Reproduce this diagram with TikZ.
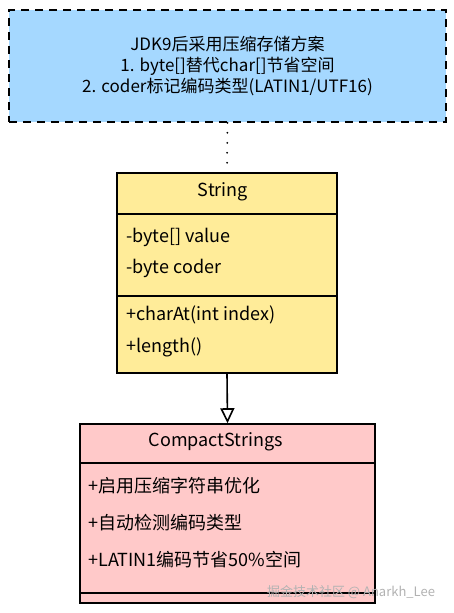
\documentclass[tikz,border=0pt]{standalone}
\usepackage{fontspec}
\setmainfont{Noto Sans CJK SC}
\usetikzlibrary{arrows.meta}

\definecolor{noteblue}{HTML}{A5D8FF}
\definecolor{classyellow}{HTML}{FFEC99}
\definecolor{classpink}{HTML}{FFC9C9}

\begin{document}
\begin{tikzpicture}[x=1pt, y=-1pt, font=\fontsize{18}{21}\selectfont,
    box/.style={draw=black, line width=1.6pt, inner sep=0pt},
    member/.style={anchor=west, inner sep=0pt}]
    \useasboundingbox (0,0) rectangle (454,613);

    % note
    \node[box, dash pattern=on 8pt off 6pt, fill=noteblue, minimum width=437pt, minimum height=112pt] (note) at (227.5,66) {};
    \node[align=center, font=\fontsize{17}{21}\selectfont] (notetext) at (note.center) {JDK9后采用压缩存储方案\\1. byte[]替代char[]节省空间\\2. coder标记编码类型(LATIN1/UTF16)};

    % String
    \node[box, fill=classyellow, minimum width=220pt, minimum height=200pt] (string) at (227,273) {};
    \draw[line width=1.6pt] ([yshift=-42pt]string.north west) -- ([yshift=-42pt]string.north east);
    \draw[line width=1.6pt] ([yshift=-124pt]string.north west) -- ([yshift=-124pt]string.north east);
    \node (stringtitle) at (223,192) {String};
    \node[member] (value) at (126,237) {-byte[] value};
    \node[member] (coder) at (126,268) {-byte coder};
    \node[member] (charat) at (126,315) {+charAt(int index)};
    \node[member] (length) at (126,347) {+length()};

    % CompactStrings
    \node[box, fill=classpink, minimum width=295pt, minimum height=179pt] (compact) at (227.5,513.5) {};
    \draw[line width=1.6pt] ([yshift=-40pt]compact.north west) -- ([yshift=-40pt]compact.north east);
    \draw[line width=1.6pt] ([yshift=11pt]compact.south west) -- ([yshift=11pt]compact.south east);
    \node (compacttitle) at (216,442) {CompactStrings};
    \node[member] (enable) at (88,486) {+启用压缩字符串优化};
    \node[member] (detect) at (88,523) {+自动检测编码类型};
    \node[member] (save) at (88,560) {+LATIN1编码节省50\%空间};

    \draw[line width=2pt, line cap=round, dash pattern=on 0pt off 10pt] (note.south) -- (string.north);
    \draw[line width=1.6pt, -{Triangle[open, width=14pt, length=15pt]}] (string.south) -- (compact.north);

    \node[gray!60, font=\fontsize{13}{15}\selectfont] (mark) at (351,592) {掘金技术社区 @ Anarkh\_Lee};
\end{tikzpicture}
\end{document}
